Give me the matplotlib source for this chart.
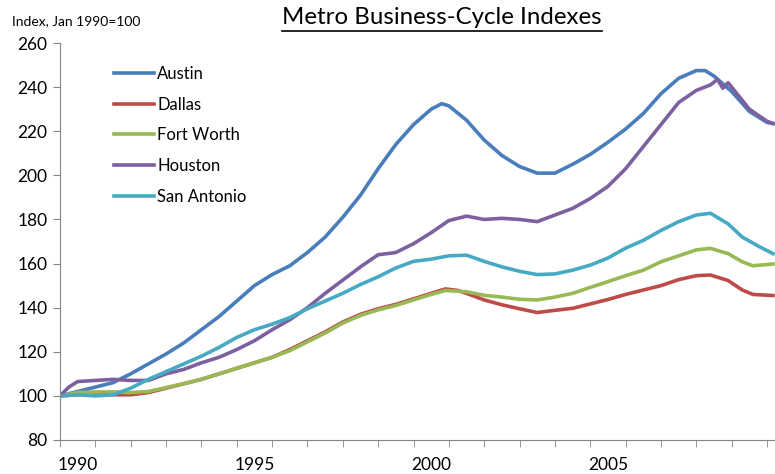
import matplotlib.pyplot as plt
from matplotlib.lines import Line2D

plt.rcParams["font.family"] = ["Lato", "DejaVu Sans"]

# values (index, Jan 1990 = 100)
austin_x = [1990.0, 1990.5, 1991.0, 1991.5, 1992.0, 1992.5, 1993.0, 1993.5, 1994.0, 1994.5,
            1995.0, 1995.5, 1996.0, 1996.5, 1997.0, 1997.5, 1998.0, 1998.5, 1999.0, 1999.5,
            2000.0, 2000.5, 2000.8, 2001.0, 2001.5, 2002.0, 2002.5, 2003.0, 2003.5, 2004.0,
            2004.5, 2005.0, 2005.5, 2006.0, 2006.5, 2007.0, 2007.5, 2008.0, 2008.25, 2008.5,
            2009.0, 2009.5, 2010.0, 2010.17]
austin = [100, 102, 104, 106, 110, 114.5, 119, 124, 130, 136,
          143, 150, 155, 159, 165, 172, 181, 191, 203, 214,
          223, 230, 232.5, 231.5, 225, 216, 209, 204, 201, 201,
          205, 209.5, 215, 221, 228, 237, 244, 247.5, 247.5, 245,
          238, 229, 224, 223.5]

dallas_x = [1990.0, 1990.5, 1991.0, 1991.5, 1992.0, 1992.5, 1993.0, 1993.5, 1994.0, 1994.5,
            1995.0, 1995.5, 1996.0, 1996.5, 1997.0, 1997.5, 1998.0, 1998.5, 1999.0, 1999.5,
            2000.0, 2000.5, 2000.9, 2001.25, 2001.5, 2002.0, 2002.5, 2003.0, 2003.5, 2004.0,
            2004.5, 2005.0, 2005.5, 2006.0, 2006.5, 2007.0, 2007.5, 2008.0, 2008.4, 2008.9,
            2009.3, 2009.6, 2010.17]
dallas = [100, 100.5, 100.5, 100.5, 100.5, 101.5, 103.5, 105.5, 107.5, 110,
          112.5, 115, 117.5, 121, 125, 129, 133.5, 137, 139.5, 141.5,
          144, 146.5, 148.5, 147.8, 146.5, 143.5, 141.3, 139.5, 137.8, 138.8,
          139.7, 141.7, 143.7, 146, 148, 150, 152.7, 154.5, 154.8, 152.3,
          148, 146, 145.5]

fortworth_x = [1990.0, 1990.5, 1991.0, 1991.5, 1992.0, 1992.5, 1993.0, 1993.5, 1994.0, 1994.5,
               1995.0, 1995.5, 1996.0, 1996.5, 1997.0, 1997.5, 1998.0, 1998.5, 1999.0, 1999.5,
               2000.0, 2000.5, 2000.9, 2001.5, 2002.0, 2002.5, 2003.0, 2003.5, 2004.0, 2004.5,
               2005.0, 2005.5, 2006.0, 2006.5, 2007.0, 2007.5, 2008.0, 2008.4, 2008.9, 2009.3,
               2009.6, 2010.17]
fortworth = [100, 101.5, 101.8, 101.8, 101.5, 102, 103.8, 105.5, 107.5, 110,
             112.5, 115, 117.5, 120.5, 124.5, 128.5, 133, 136.5, 139, 141,
             143.5, 146, 147.8, 147.2, 145.6, 144.8, 143.8, 143.5, 144.8, 146.5,
             149.2, 151.8, 154.5, 157, 160.8, 163.5, 166.2, 166.9, 164.5, 160.8,
             159, 159.8]

houston_x = [1990.0, 1990.25, 1990.5, 1991.0, 1991.5, 1992.0, 1992.5, 1993.0, 1993.5, 1994.0,
             1994.5, 1995.0, 1995.5, 1996.0, 1996.5, 1997.0, 1997.5, 1998.0, 1998.5, 1999.0,
             1999.5, 2000.0, 2000.5, 2001.0, 2001.5, 2002.0, 2002.5, 2003.0, 2003.5, 2004.0,
             2004.5, 2005.0, 2005.5, 2006.0, 2006.5, 2007.0, 2007.5, 2008.0, 2008.4, 2008.6,
             2008.75, 2008.9, 2009.0, 2009.5, 2010.0, 2010.17]
houston = [100, 104, 106.5, 107, 107.5, 107, 107, 110, 112, 115,
           117.5, 121, 125, 130, 134.5, 140, 146.5, 152.5, 158.5, 164,
           165, 169, 174, 179.5, 181.5, 180, 180.5, 180, 179, 182,
           185, 189.5, 195, 203, 213, 223, 233, 238.5, 241, 243.5,
           239.5, 242, 240, 230, 224.5, 223.5]

sanantonio_x = [1990.0, 1990.5, 1991.0, 1991.5, 1992.0, 1992.5, 1993.0, 1993.5, 1994.0, 1994.5,
                1995.0, 1995.5, 1996.0, 1996.5, 1997.0, 1997.5, 1998.0, 1998.5, 1999.0, 1999.5,
                2000.0, 2000.5, 2001.0, 2001.5, 2002.0, 2002.5, 2003.0, 2003.5, 2004.0, 2004.5,
                2005.0, 2005.5, 2006.0, 2006.5, 2007.0, 2007.5, 2008.0, 2008.4, 2008.9, 2009.3,
                2009.8, 2010.17]
sanantonio = [100, 100.5, 100, 100.5, 103.5, 107.5, 111, 114.5, 118, 122,
              126.5, 130, 132.5, 135.5, 139.5, 143, 146.5, 150.5, 154, 158,
              161, 162, 163.5, 163.8, 161, 158.5, 156.5, 155, 155.3, 157,
              159.3, 162.5, 167, 170.5, 175, 179, 182, 182.8, 178, 172,
              167.5, 164.5]

year_labels = ["1990", "1995", "2000", "2005"]

fig = plt.figure(figsize=(7.75, 4.74), dpi=100)
ax = fig.add_axes([60/775, 1-440/474, 1-60/775, (440-43)/474])

ax.plot(austin_x, austin, color="#4A7EBB", lw=2.6, label="Austin")
ax.plot(dallas_x, dallas, color="#BE4B48", lw=2.6, label="Dallas")
ax.plot(fortworth_x, fortworth, color="#98B954", lw=2.6, label="Fort Worth")
ax.plot(houston_x, houston, color="#7D60A0", lw=2.6, label="Houston")
ax.plot(sanantonio_x, sanantonio, color="#46AAC5", lw=2.6, label="San Antonio")

ax.set_ylim(80, 260)
ax.set_yticks(range(80, 261, 20))
ax.set_xlim(1990, 2010.226)
ax.set_xticks(range(1990, 2011), minor=True)
ax.set_xticks([int(y) + 0.5 for y in year_labels])
ax.set_xticklabels(year_labels)

for s in ["top", "right"]:
    ax.spines[s].set_visible(False)
for s in ["left", "bottom"]:
    ax.spines[s].set_color("#868686")
ax.tick_params(axis="y", length=5, color="#868686", labelsize=12.5, pad=4)
ax.tick_params(axis="x", which="major", length=0, labelsize=12.5, pad=12)
ax.tick_params(axis="x", which="minor", length=5, color="#868686")

ax.legend(loc="upper left", bbox_to_anchor=(114/775, 1-66/474), bbox_transform=fig.transFigure,
          frameon=False, fontsize=12, handlelength=2.4, handletextpad=0.2,
          labelspacing=0.88, borderpad=0, borderaxespad=0)

fig.text(12/775, 1-21/474, "Index, Jan 1990=100", fontsize=10, va="center", ha="left")
t = fig.text(442/775, 1-18/474, "Metro Business-Cycle Indexes", fontsize=17.3, ha="center", va="center")

fig.canvas.draw()
bb = t.get_window_extent().transformed(fig.transFigure.inverted())
fig.add_artist(Line2D([bb.x0, bb.x1], [1-31/474, 1-31/474], color="black", lw=1.2,
                      transform=fig.transFigure))

fig.savefig("out.png", dpi=100)
